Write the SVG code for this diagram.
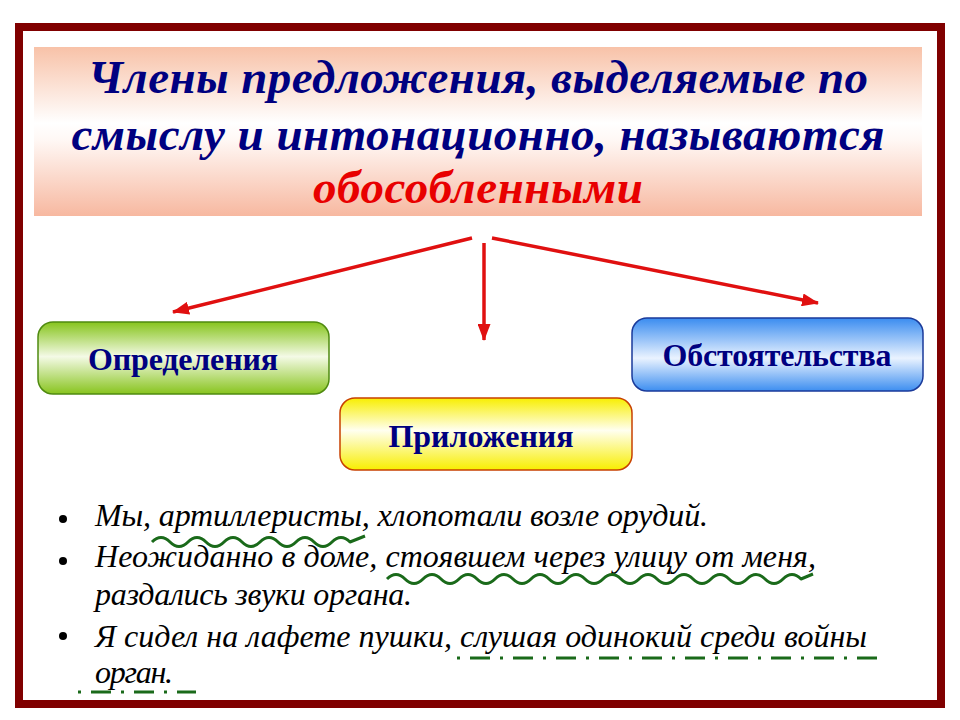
<svg xmlns="http://www.w3.org/2000/svg" width="960" height="720" viewBox="0 0 960 720">
<defs>
<linearGradient id="gTitle" x1="0" y1="0" x2="0" y2="1">
<stop offset="0" stop-color="#f8c2a8"/>
<stop offset="0.45" stop-color="#ffffff"/>
<stop offset="0.55" stop-color="#fff8f5"/>
<stop offset="1" stop-color="#f7b8a0"/>
</linearGradient>
<linearGradient id="gGreen" x1="0" y1="0" x2="0" y2="1">
<stop offset="0" stop-color="#86c41c"/>
<stop offset="0.48" stop-color="#f4fae6"/>
<stop offset="1" stop-color="#88c41e"/>
</linearGradient>
<linearGradient id="gYellow" x1="0" y1="0" x2="0" y2="1">
<stop offset="0" stop-color="#f8ee00"/>
<stop offset="0.45" stop-color="#fffff0"/>
<stop offset="1" stop-color="#f8ee00"/>
</linearGradient>
<linearGradient id="gBlue" x1="0" y1="0" x2="0" y2="1">
<stop offset="0" stop-color="#3a8cf0"/>
<stop offset="0.55" stop-color="#eaf3ff"/>
<stop offset="1" stop-color="#3d8ef0"/>
</linearGradient>
<marker id="ah" markerWidth="17" markerHeight="13" refX="16" refY="6.5" orient="auto" markerUnits="userSpaceOnUse">
<path d="M0,0 L17,6.5 L0,13 Z" fill="#e01010"/>
</marker>
</defs>
<style>
.title{font-weight:bold;font-style:italic;font-size:47px;fill:#000080;text-anchor:middle}
.red{fill:#e80000}
.lbl{font-weight:bold;font-size:32px;fill:#000080;text-anchor:middle}
.txt{font-style:italic;font-size:32px;fill:#000000}
.conn{stroke:#e01010;stroke-width:3.5;fill:none}
.wave{stroke:#1a6a1a;stroke-width:3;fill:none;stroke-linejoin:round}
.dash{stroke:#1a6a1a;stroke-width:3;fill:none;stroke-dasharray:3 10 20 10}
</style>
<rect x="0" y="0" width="960" height="720" fill="#ffffff"/>
<rect x="19" y="27" width="922" height="677" fill="#ffffff" stroke="#800000" stroke-width="8"/>
<g id="title" font-family="Liberation Serif, serif">
<rect x="34" y="47" width="888" height="169" fill="url(#gTitle)"/>
<text class="title" x="478" y="93" textLength="780">Члены предложения, выделяемые по</text>
<text class="title" x="478" y="150" textLength="813">смыслу и интонационно, называются</text>
<text class="title red" x="478" y="203" textLength="330">обособленными</text>
</g>
<g id="connectors">
<line class="conn" x1="472" y1="238" x2="173" y2="312" marker-end="url(#ah)"/>
<line class="conn" x1="484" y1="243" x2="484" y2="340" marker-end="url(#ah)"/>
<line class="conn" x1="492" y1="238" x2="818" y2="303" marker-end="url(#ah)"/>
</g>
<g id="node-opredeleniya" font-family="Liberation Serif, serif">
<rect x="38" y="322" width="291" height="72" rx="15" fill="url(#gGreen)" stroke="#4f8a10" stroke-width="1.5"/>
<text class="lbl" x="183" y="370" textLength="190">Определения</text>
</g>
<g id="node-prilozheniya" font-family="Liberation Serif, serif">
<rect x="340" y="398" width="292" height="72" rx="15" fill="url(#gYellow)" stroke="#c84000" stroke-width="1.5"/>
<text class="lbl" x="481" y="447" textLength="185">Приложения</text>
</g>
<g id="node-obstoyatelstva" font-family="Liberation Serif, serif">
<rect x="632" y="318" width="291" height="73" rx="15" fill="url(#gBlue)" stroke="#1a3a9a" stroke-width="1.5"/>
<text class="lbl" x="777" y="366" textLength="229">Обстоятельства</text>
</g>
<g id="examples" font-family="Liberation Serif, serif">
<circle cx="63" cy="519" r="4" fill="#000"/>
<circle cx="63" cy="561" r="4" fill="#000"/>
<circle cx="63" cy="636" r="4" fill="#000"/>
<text class="txt" x="95" y="526" textLength="613">Мы, артиллеристы, хлопотали возле орудий.</text>
<text class="txt" x="95" y="567" textLength="721">Неожиданно в доме, стоявшем через улицу от меня,</text>
<text class="txt" x="95" y="605" textLength="317">раздались звуки органа.</text>
<text class="txt" x="95" y="647" textLength="772">Я сидел на лафете пушки, слушая одинокий среди войны</text>
<text class="txt" x="95" y="683" textLength="78">орган.</text>
<path class="wave" d="M152,542 q9,-9 18,0 t18,0 t18,0 t18,0 t18,0 t18,0 t18,0 t18,0 t18,0 t18,0 t18,0 l15,-6"/>
<path class="wave" d="M387,579 q9,-9 18,0 t18,0 t18,0 t18,0 t18,0 t18,0 t18,0 t18,0 t18,0 t18,0 t18,0 t18,0 t18,0 t18,0 t18,0 t18,0 t18,0 t18,0 t18,0 t18,0 t18,0 t18,0 t18,0 l12,-5"/>
<line class="dash" x1="457" y1="658" x2="882" y2="658"/>
<line class="dash" x1="78" y1="692" x2="196" y2="692"/>
</g>
</svg>
